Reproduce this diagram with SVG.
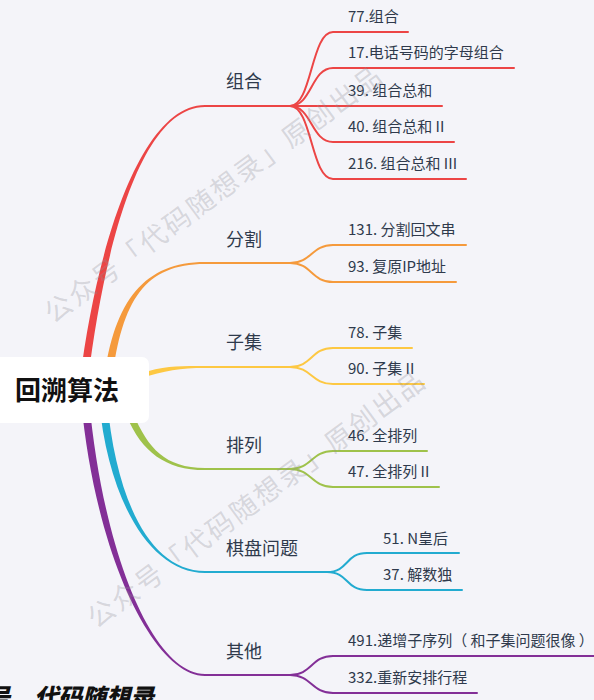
<svg xmlns="http://www.w3.org/2000/svg" width="594" height="700" viewBox="0 0 594 700">
<style>
  text { font-family: "Noto Sans CJK SC", "Noto Sans", sans-serif; }
  .lbl { font-size: 18px; fill: #2f3a4c; }
  .leaf { font-size: 15px; fill: #2f3a4c; }
  .ln { fill: none; stroke-width: 2; stroke-linecap: round; }
  .red { stroke: #ec4545; } .redf { fill: #ec4545; }
  .org { stroke: #f59a3c; } .orgf { fill: #f59a3c; }
  .yel { stroke: #fdc843; } .yelf { fill: #fdc843; }
  .grn { stroke: #9fc24b; } .grnf { fill: #9fc24b; }
  .tea { stroke: #22abd0; } .teaf { fill: #22abd0; }
  .pur { stroke: #832f97; } .purf { fill: #832f97; }
  .wm { font-size: 27px; letter-spacing: 2.5px; fill: #8e8e96; fill-opacity: 0.3; }
</style>
<rect x="0" y="0" width="594" height="700" fill="#f4f4f9"/>

<g id="connectors">
  <!-- root to main branches (tapered) -->
  <path class="redf" d="M80,380 C96,250 140,105 205,105 L205,107 C140,107 104,250 88,380 Z"/>
  <path class="orgf" d="M104,380 C114,300 145,262 205,262 L205,264 C145,264 122,300 112,380 Z"/>
  <path class="yelf" d="M140,373.5 C165,365.5 180,366 205,366 L205,368 C180,368 165,370.5 140,378.5 Z"/>
  <path class="grnf" d="M126.8,416.4 C141.8,451.4 165,470 205,470 L205,468 C165,468 148.2,448.6 133.2,413.6 Z"/>
  <path class="teaf" d="M99,400 C108,500 150,573 205,573 L205,571 C150,571 116,500 107,400 Z"/>
  <path class="purf" d="M81,400 C96,560 155,676 205,676 L205,674 C155,674 104,560 89,400 Z"/>
  <!-- main branch underlines -->
  <path class="ln red" d="M205,106 H290"/>
  <path class="ln org" d="M205,263 H290"/>
  <path class="ln yel" d="M205,367 H290"/>
  <path class="ln grn" d="M205,469 H290"/>
  <path class="ln tea" d="M205,572 H327"/>
  <path class="ln pur" d="M205,675 H290"/>
  <!-- red children -->
  <path class="ln red" d="M290,106 C312,106 311,32 333,32 H408"/>
  <path class="ln red" d="M290,106 C312,106 311,68 333,68 H514"/>
  <path class="ln red" d="M290,106 H442"/>
  <path class="ln red" d="M290,106 C312,106 311,142 333,142 H454"/>
  <path class="ln red" d="M290,106 C312,106 311,179 333,179 H466"/>
  <!-- orange children -->
  <path class="ln org" d="M290,263 C312,263 311,245 333,245 H466"/>
  <path class="ln org" d="M290,263 C312,263 311,282 333,282 H456"/>
  <!-- yellow children -->
  <path class="ln yel" d="M290,367 C312,367 311,348 333,348 H412"/>
  <path class="ln yel" d="M290,367 C312,367 311,384 333,384 H424"/>
  <!-- green children -->
  <path class="ln grn" d="M290,469 C312,469 311,451 333,451 H427"/>
  <path class="ln grn" d="M290,469 C312,469 311,487 333,487 H439"/>
  <!-- teal children -->
  <path class="ln tea" d="M327,572 C349,572 345,553 367,553 H459"/>
  <path class="ln tea" d="M327,572 C349,572 345,590 367,590 H462"/>
  <!-- purple children -->
  <path class="ln pur" d="M290,675 C312,675 311,656 333,656 H600"/>
  <path class="ln pur" d="M290,675 C312,675 311,693 333,693 H477"/>
</g>

<g id="root">
  <rect x="-6" y="357" width="155" height="66" rx="7" fill="#ffffff"/>
  <text x="15" y="400" font-size="26" font-weight="bold" fill="#111111">回溯算法</text>
</g>

<g id="zuhe"><text class="lbl" x="226" y="88">组合</text></g>
<g id="n77"><text class="leaf" x="348" y="22">77.组合</text></g>
<g id="n17"><text class="leaf" x="348" y="58">17.电话号码的字母组合</text></g>
<g id="n39"><text class="leaf" x="348" y="96">39. 组合总和</text></g>
<g id="n40"><text class="leaf" x="348" y="132">40. 组合总和 II</text></g>
<g id="n216"><text class="leaf" x="348" y="169">216. 组合总和 III</text></g>

<g id="fenge"><text class="lbl" x="226" y="246">分割</text></g>
<g id="n131"><text class="leaf" x="348" y="235">131. 分割回文串</text></g>
<g id="n93"><text class="leaf" x="348" y="272">93. 复原IP地址</text></g>

<g id="ziji"><text class="lbl" x="226" y="349">子集</text></g>
<g id="n78"><text class="leaf" x="348" y="338">78. 子集</text></g>
<g id="n90"><text class="leaf" x="348" y="374">90. 子集 II</text></g>

<g id="pailie"><text class="lbl" x="226" y="452">排列</text></g>
<g id="n46"><text class="leaf" x="348" y="441">46. 全排列</text></g>
<g id="n47"><text class="leaf" x="348" y="477">47. 全排列 II</text></g>

<g id="qipan"><text class="lbl" x="226" y="555">棋盘问题</text></g>
<g id="n51"><text class="leaf" x="383" y="544">51. N皇后</text></g>
<g id="n37"><text class="leaf" x="383" y="580">37. 解数独</text></g>

<g id="qita"><text class="lbl" x="226" y="658">其他</text></g>
<g id="n491"><text class="leaf" x="348" y="646" xml:space="preserve">491.递增子序列（ 和子集问题很像 ）</text></g>
<g id="n332"><text class="leaf" x="348" y="683">332.重新安排行程</text></g>

<g id="watermark">
  <text class="wm" transform="translate(53.2,324.3) rotate(-36.4)">公众号「代码随想录」原创出品</text>
  <text class="wm" transform="translate(96.2,629.3) rotate(-36.4)">公众号「代码随想录」原创出品</text>
  <text x="-14" y="706" font-size="24" font-weight="900" font-style="italic" fill="#111111">号，代码随想录</text>
</g>
</svg>
